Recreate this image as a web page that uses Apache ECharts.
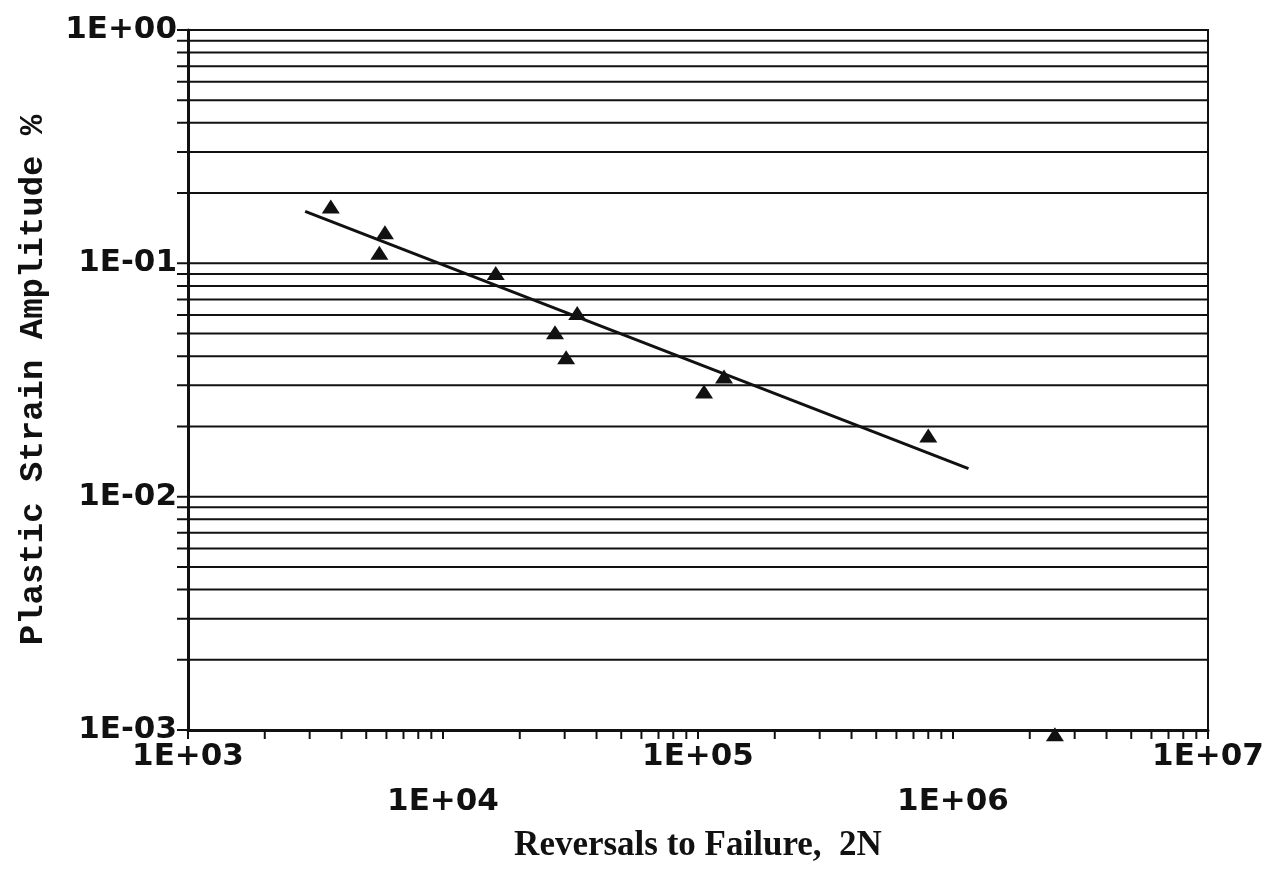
<!DOCTYPE html>
<html>
<head>
<meta charset="utf-8">
<script src="https://cdn.jsdelivr.net/npm/echarts@6/dist/echarts.min.js"></script>
<style>
  html, body { margin: 0; padding: 0; background: #fff; }
  #chart { width: 1276px; height: 876px; }
</style>
</head>
<body>
<div id="chart"></div>
<script>
// Reversals to failure (2N) and plastic strain amplitude (%) for each specimen
const reversals = [3630, 5920, 5630, 16100, 27500, 33600, 30400, 105600, 126500, 800000, 2510000];
const strainAmp = [0.175, 0.136, 0.111, 0.091, 0.0507, 0.0612, 0.0396, 0.0282, 0.0327, 0.0183, 0.00096];

// End points of the fitted power-law line
const fitReversals = [2880, 1150000];
const fitStrain = [0.167, 0.0132];

// Axis ranges
const X_MIN = 1e3, X_MAX = 1e7;
const Y_MIN = 1e-3, Y_MAX = 1;
const xDecades = [1e3, 1e4, 1e5, 1e6];
const yDecades = [1e-3, 1e-2, 1e-1];
const mantissas = [1, 2, 3, 4, 5, 6, 7, 8, 9];
const minorMantissas = [2, 3, 4, 5, 6, 7, 8, 9];

const INK = '#111';

// Horizontal rules at every 1..9 step of each decade
const yRuleData = [];
yDecades.forEach(d => mantissas.forEach(m => yRuleData.push([X_MIN, m * d])));
yRuleData.push([X_MIN, Y_MAX]);

// Minor ticks below the x axis
const xMinorData = [];
xDecades.forEach(d => minorMantissas.forEach(m => xMinorData.push([m * d, Y_MIN])));

const expLabel = v => {
  const e = Math.round(Math.log10(v));
  return '1E' + (e < 0 ? '-' : '+') + String(Math.abs(e)).padStart(2, '0');
};

const chart = echarts.init(document.getElementById('chart'), null, { renderer: 'canvas' });

chart.setOption({
  backgroundColor: '#fff',
  animation: false,
  grid: {
    left: 188, right: 68, top: 30, bottom: 146,
    show: true, borderColor: INK, borderWidth: 2, backgroundColor: 'transparent'
  },
  xAxis: {
    type: 'log',
    logBase: 10,
    min: X_MIN,
    max: X_MAX,
    name: 'Reversals to Failure,  2N',
    nameLocation: 'middle',
    nameGap: 97,
    nameTextStyle: {
      fontFamily: 'Liberation Serif', fontWeight: 'bold', fontSize: 35, color: INK
    },
    axisLine: { show: true, lineStyle: { color: INK, width: 3 } },
    axisTick: { show: true, inside: false, length: 9, lineStyle: { color: INK, width: 2 } },
    splitLine: { show: false },
    axisLabel: {
      showMinLabel: true,
      showMaxLabel: true,
      margin: 4,
      lineHeight: 45,
      fontFamily: 'DejaVu Sans',
      fontWeight: 'bold',
      fontSize: 31,
      color: INK,
      // odd exponents on the first row, even exponents staggered below
      formatter: v => {
        const e = Math.round(Math.log10(v));
        return (e % 2 !== 0 ? '' : '\n') + expLabel(v);
      }
    }
  },
  yAxis: {
    type: 'log',
    logBase: 10,
    min: Y_MIN,
    max: Y_MAX,
    name: 'Plastic Strain Amplitude %',
    nameLocation: 'middle',
    nameGap: 138,
    nameTextStyle: {
      fontFamily: 'Liberation Mono', fontWeight: 'bold', fontSize: 34, color: INK
    },
    axisLine: { show: true, lineStyle: { color: INK, width: 3 } },
    axisTick: { show: false },
    splitLine: { show: false },
    axisLabel: {
      showMinLabel: true,
      showMaxLabel: true,
      margin: 11,
      fontFamily: 'DejaVu Sans',
      fontWeight: 'bold',
      fontSize: 31,
      color: INK,
      formatter: v => expLabel(v)
    }
  },
  series: [
    {
      // horizontal rules, each with a short tick left of the axis
      type: 'custom',
      silent: true,
      clip: false,
      z: 1,
      data: yRuleData,
      renderItem: (params, api) => {
        const v = api.value(1);
        const a = api.coord([X_MIN, v]);
        const b = api.coord([X_MAX, v]);
        return {
          type: 'line',
          shape: { x1: a[0] - 11, y1: a[1], x2: b[0], y2: b[1] },
          style: { stroke: INK, lineWidth: 2 }
        };
      }
    },
    {
      // minor ticks on the x axis
      type: 'custom',
      silent: true,
      clip: false,
      z: 1,
      data: xMinorData,
      renderItem: (params, api) => {
        const p = api.coord([api.value(0), Y_MIN]);
        return {
          type: 'line',
          shape: { x1: p[0], y1: p[1], x2: p[0], y2: p[1] + 9 },
          style: { stroke: INK, lineWidth: 2 }
        };
      }
    },
    {
      type: 'line',
      z: 3,
      data: fitReversals.map((x, i) => [x, fitStrain[i]]),
      showSymbol: false,
      symbol: 'none',
      lineStyle: { color: INK, width: 3 },
      silent: true
    },
    {
      type: 'scatter',
      z: 4,
      clip: false,
      symbol: 'triangle',
      symbolSize: [18, 14],
      itemStyle: { color: INK, opacity: 1 },
      data: reversals.map((x, i) => [x, strainAmp[i]])
    }
  ]
});
</script>
</body>
</html>
